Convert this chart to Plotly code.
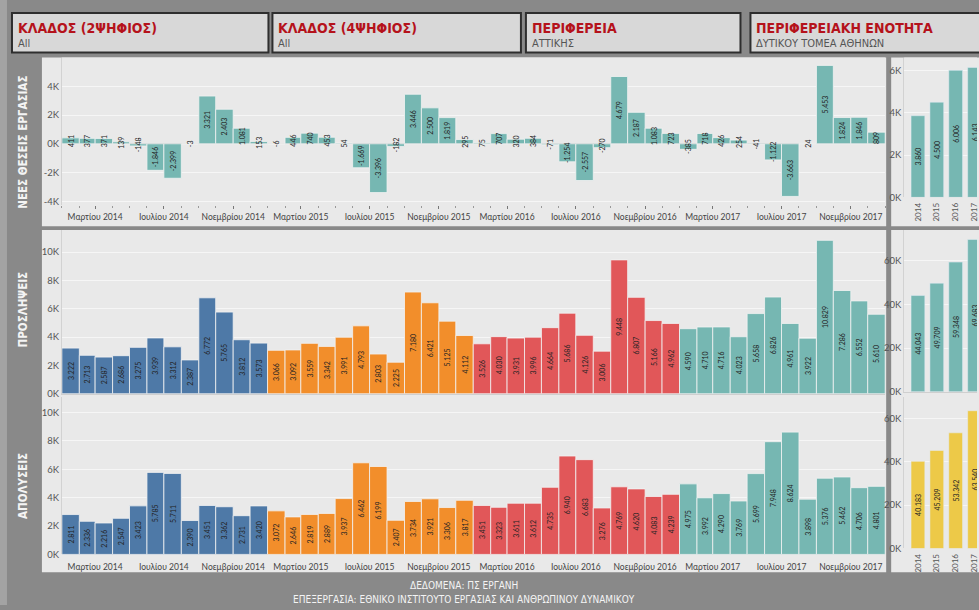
import pandas as pd
import plotly.graph_objects as go

W, H = 979, 610

# ---------------- data ----------------
months = pd.date_range("2014-01-01", "2017-12-01", freq="MS")
years = ["2014", "2015", "2016", "2017"]

net = [411, 377, 371, 139, -148, -1846, -2399, -3, 3321, 2403, 1081, 153,
       -6, 446, 740, 453, 54, -1669, -3396, -182, 3446, 2500, 1819, 295,
       75, 707, 320, 384, -71, -1254, -2557, -270, 4679, 2187, 1083, 723,
       -385, 718, 426, 254, -41, -1122, -3663, 24, 5453, 1824, 1846, 809]
hires = [3222, 2713, 2587, 2686, 3275, 3939, 3312, 2387, 6772, 5765, 3812, 3573,
         3066, 3092, 3559, 3342, 3991, 4793, 2803, 2225, 7180, 6421, 5125, 4112,
         3526, 4030, 3931, 3996, 4664, 5686, 4126, 3006, 9448, 6807, 5166, 4962,
         4590, 4710, 4716, 4023, 5658, 6826, 4961, 3922, 10829, 7286, 6552, 5610]
layoffs = [2811, 2336, 2216, 2547, 3423, 5785, 5711, 2390, 3451, 3362, 2731, 3420,
           3072, 2646, 2819, 2889, 3937, 6462, 6199, 2407, 3734, 3921, 3306, 3817,
           3451, 3323, 3611, 3612, 4735, 6940, 6683, 3276, 4769, 4620, 4083, 4239,
           4975, 3992, 4290, 3769, 5699, 7948, 8624, 3898, 5376, 5462, 4706, 4801]

net_year = [3860, 4500, 6006, 6143]
hires_year = [44043, 49709, 59348, 69683]
layoffs_year = [40183, 45209, 53342, 63540]

month_tick_dates = ["2014-03-01", "2014-07-01", "2014-11-01",
                    "2015-03-01", "2015-07-01", "2015-11-01",
                    "2016-03-01", "2016-07-01", "2016-11-01",
                    "2017-03-01", "2017-07-01", "2017-11-01"]
month_tick_text = ["Μαρτίου 2014", "Ιουλίου 2014", "Νοεμβρίου 2014",
                   "Μαρτίου 2015", "Ιουλίου 2015", "Νοεμβρίου 2015",
                   "Μαρτίου 2016", "Ιουλίου 2016", "Νοεμβρίου 2016",
                   "Μαρτίου 2017", "Ιουλίου 2017", "Νοεμβρίου 2017"]

net_ticks = [-4000, -2000, 0, 2000, 4000]
net_ticktext = ["-4K", "-2K", "0K", "2K", "4K"]
flow_ticks = [0, 2000, 4000, 6000, 8000, 10000]
flow_ticktext = ["0K", "2K", "4K", "6K", "8K", "10K"]
net_year_ticks = [0, 2000, 4000, 6000]
net_year_ticktext = ["0K", "2K", "4K", "6K"]
year_ticks = [0, 20000, 40000, 60000]
year_ticktext = ["0K", "20K", "40K", "60K"]

filter_titles = ["ΚΛΑΔΟΣ (2ΨΗΦΙΟΣ)", "ΚΛΑΔΟΣ (4ΨΗΦΙΟΣ)", "ΠΕΡΙΦΕΡΕΙΑ", "ΠΕΡΙΦΕΡΕΙΑΚΗ ΕΝΟΤΗΤΑ"]
filter_values = ["All", "All", "ΑΤΤΙΚΗΣ", "ΔΥΤΙΚΟΥ ΤΟΜΕΑ ΑΘΗΝΩΝ"]
row_titles = ["ΝΕΕΣ ΘΕΣΕΙΣ ΕΡΓΑΣΙΑΣ", "ΠΡΟΣΛΗΨΕΙΣ", "ΑΠΟΛΥΣΕΙΣ"]
footer = ["ΔΕΔΟΜΕΝΑ: ΠΣ ΕΡΓΑΝΗ",
          "ΕΠΕΞΕΡΓΑΣΙΑ: ΕΘΝΙΚΟ ΙΝΣΤΙΤΟΥΤΟ ΕΡΓΑΣΙΑΣ ΚΑΙ ΑΝΘΡΩΠΙΝΟΥ ΔΥΝΑΜΙΚΟΥ"]

# ---------------- style ----------------
BG = "#898989"
PANEL = "#e9e9e9"
GRID = "#f6f6f6"
TEAL = "#76b7b2"
YELLOW = "#edc948"
YEAR_COLORS = {2014: "#4e79a7", 2015: "#f28e2b", 2016: "#e15759", 2017: "#76b7b2"}
NARROW = "Liberation Sans Narrow, DejaVu Sans Condensed, Arial Narrow, sans-serif"
BASE = "Lato, Open Sans, sans-serif"


def px(x):
    return x / W


def py(y):
    return 1 - y / H


month_colors = [YEAR_COLORS[d.year] for d in months]
month_widths = [d.days_in_month * 86400000 for d in months]

fig = go.Figure()

bar_common = dict(textposition="inside", insidetextanchor="middle", textangle=-90,
                  constraintext="none", texttemplate="%{y:,}",
                  textfont=dict(size=7, color="#232323", family=BASE),
                  hoverinfo="skip", showlegend=False, cliponaxis=True)

fig.add_trace(go.Bar(x=months, y=net, xperiod="M1", xperiodalignment="middle",
                     width=month_widths, marker=dict(color=TEAL, line=dict(color="#f2f2f2", width=0.8)),
                     xaxis="x", yaxis="y", **bar_common))
fig.add_trace(go.Bar(x=months, y=hires, xperiod="M1", xperiodalignment="middle",
                     width=month_widths, marker=dict(color=month_colors, line=dict(color="#f2f2f2", width=0.8)),
                     xaxis="x2", yaxis="y2", **bar_common))
fig.add_trace(go.Bar(x=months, y=layoffs, xperiod="M1", xperiodalignment="middle",
                     width=month_widths, marker=dict(color=month_colors, line=dict(color="#f2f2f2", width=0.8)),
                     xaxis="x3", yaxis="y3", **bar_common))
fig.add_trace(go.Bar(x=years, y=net_year, marker=dict(color=TEAL), xaxis="x4", yaxis="y4", **bar_common))
fig.add_trace(go.Bar(x=years, y=hires_year, marker=dict(color=TEAL), xaxis="x5", yaxis="y5", **bar_common))
fig.add_trace(go.Bar(x=years, y=layoffs_year, marker=dict(color=YELLOW), xaxis="x6", yaxis="y6", **bar_common))

tickfont = dict(size=9.5, color="#555555", family=BASE)
monthfont = dict(size=8.5, color="#444444", family=BASE)

LX = [px(62), px(887)]
RX = [px(906), 1.0]
date_range = ["2014-01-01", "2018-01-01"]

def yax(domain, rng, tv, tt, anchor, zl=False):
    return dict(domain=domain, range=rng, tickmode="array", tickvals=tv, ticktext=tt,
                tickfont=tickfont, showgrid=True, gridcolor=GRID, gridwidth=1,
                zeroline=zl, zerolinecolor="#c4c4c4", zerolinewidth=1,
                showline=True, linecolor="#d2d2d2", linewidth=1, ticks="",
                anchor=anchor, fixedrange=True)

layout = dict(
    width=W, height=H, autosize=False,
    margin=dict(l=0, r=0, t=0, b=0),
    paper_bgcolor=BG, plot_bgcolor=PANEL,
    separators=",.", bargap=0.27,
    font=dict(family=BASE),
    xaxis=dict(domain=LX, type="date", range=date_range, anchor="y",
               tickmode="array", tickvals=month_tick_dates, ticktext=month_tick_text,
               tickfont=monthfont, ticks="outside", ticklen=3, tickcolor="#777",
               minor=dict(ticks="outside", dtick="M1", tick0="2014-01-01", ticklen=2, tickcolor="#999"),
               showgrid=False, showline=False, zeroline=False),
    yaxis=yax([py(207), py(58)], [-4280, 6000], net_ticks, net_ticktext, "x", zl=True),
    xaxis2=dict(domain=LX, type="date", range=date_range, anchor="y2", showticklabels=False,
                ticks="", showgrid=False, showline=True, linecolor="#cfcfcf", zeroline=False),
    yaxis2=yax([py(397), py(232)], [0, 11550], flow_ticks, flow_ticktext, "x2"),
    xaxis3=dict(domain=LX, type="date", range=date_range, anchor="y3",
                tickmode="array", tickvals=month_tick_dates, ticktext=month_tick_text,
                tickfont=monthfont, ticks="", ticklabelstandoff=6,
                showgrid=False, showline=False, zeroline=False),
    yaxis3=yax([py(559), py(400)], [0, 11120], flow_ticks, flow_ticktext, "x3"),
    xaxis4=dict(domain=RX, type="category", range=[-0.73, 3.13], anchor="y4",
                tickangle=-90, tickfont=dict(size=8, color="#555", family=BASE), ticklabelstandoff=3,
                showgrid=False, showline=False, zeroline=False),
    yaxis4=yax([py(199), py(58)], [0, 6610], net_year_ticks, net_year_ticktext, "x4"),
    xaxis5=dict(domain=RX, type="category", range=[-0.73, 3.13], anchor="y5",
                showticklabels=False, showgrid=False, showline=True, linecolor="#cfcfcf", zeroline=False),
    yaxis5=yax([py(395), py(232)], [0, 74000], year_ticks, year_ticktext, "x5"),
    xaxis6=dict(domain=RX, type="category", range=[-0.73, 3.13], anchor="y6",
                tickangle=-90, tickfont=dict(size=8, color="#555", family=BASE), ticklabelstandoff=3,
                showgrid=False, showline=False, zeroline=False),
    yaxis6=yax([py(553), py(400)], [0, 70000], year_ticks, year_ticktext, "x6"),
)

shapes = []
def rect(x0, y0, x1, y1, fill, line_color=None, lw=0):
    shapes.append(dict(type="rect", xref="paper", yref="paper", layer="below",
                       x0=px(x0), x1=px(x1), y0=py(y1), y1=py(y0),
                       fillcolor=fill, line=dict(color=line_color or fill, width=lw)))

rect(0, 0, 7, 610, "#a3a3a3")
rect(42, 58, 888, 228, PANEL)
rect(42, 232, 888, 577, PANEL)
rect(893, 58, 985, 228, PANEL)
rect(893, 232, 985, 577, PANEL)

box_x = [(12, 269), (273, 522), (527, 742), (752, 990)]
annotations = []
for (x0, x1), t, v in zip(box_x, filter_titles, filter_values):
    rect(x0, 13, x1, 53, "#d8d8d8", "#2e2e2e", 2)
    annotations.append(dict(text="<b>" + t + "</b>", x=px(x0 + 4), y=py(28), xref="paper", yref="paper",
                            xanchor="left", yanchor="middle", showarrow=False,
                            font=dict(size=14, color="#b5121b", family=NARROW)))
    annotations.append(dict(text=v, x=px(x0 + 4), y=py(44), xref="paper", yref="paper",
                            xanchor="left", yanchor="middle", showarrow=False,
                            font=dict(size=11, color="#555555", family=NARROW)))

for t, yc in zip(row_titles, [143, 312, 490]):
    annotations.append(dict(text="<b>" + t + "</b>", x=px(23), y=py(yc), xref="paper", yref="paper",
                            xanchor="center", yanchor="middle", textangle=-90, showarrow=False,
                            font=dict(size=11.5, color="#f4f4f4", family=NARROW)))

for t, yc in zip(footer, [590, 604]):
    annotations.append(dict(text=t, x=px(465), y=py(yc), xref="paper", yref="paper",
                            xanchor="center", yanchor="middle", showarrow=False,
                            font=dict(size=10, color="#f4f4f4", family=NARROW)))

layout["shapes"] = shapes
layout["annotations"] = annotations
fig.update_layout(**layout)

fig.write_html("out.html", config={"displayModeBar": False},
               post_script="document.body.style.margin='0';document.body.style.overflow='hidden';"
                           "document.body.style.background='" + BG + "';")
